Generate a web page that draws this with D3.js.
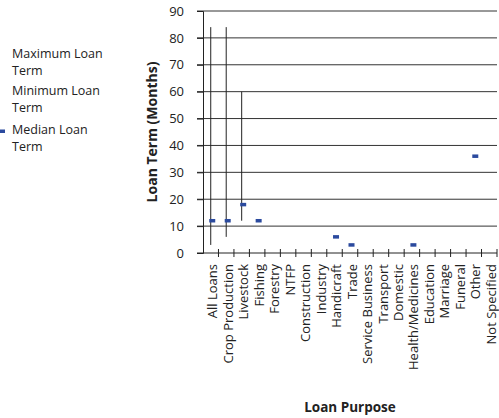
<!DOCTYPE html>
<html><head><meta charset="utf-8">
<script src="https://cdn.jsdelivr.net/npm/d3@7"></script>
<style>
html,body{margin:0;padding:0;background:#fff;}
text{font-family:"Open Sans","Noto Sans",sans-serif;fill:#222;}
</style></head>
<body>
<svg id="chart" width="499" height="418"></svg>
<script>
const categories = ["All Loans","Crop Production","Livestock","Fishing","Forestry","NTFP","Construction","Industry","Handicraft","Trade","Service Business","Transport","Domestic","Health/Medicines","Education","Marriage","Funeral","Other","Not Specified"];
const maxTerm = [84,84,60,null,null,null,null,null,null,null,null,null,null,null,null,null,null,null,null];
const minTerm = [3,6,12,null,null,null,null,null,null,null,null,null,null,null,null,null,null,null,null];
const medianTerm = [12,12,18,12,null,null,null,null,6,3,null,null,null,3,null,null,null,36,null];
const yTicks = [0,10,20,30,40,50,60,70,80,90];
const legendItems = [["Maximum Loan","Term"],["Minimum Loan","Term"],["Median Loan","Term"]];

const svg = d3.select("#chart");
const x = d3.scaleBand().domain(categories).range([203,497]).padding(0);
const y = d3.scaleLinear().domain([0,90]).range([253,11]);

// gridlines
svg.append("g").selectAll("line").data(yTicks.filter(d=>d>0)).join("line")
  .attr("x1",197).attr("x2",497)
  .attr("y1",d=>y(d)).attr("y2",d=>y(d))
  .attr("stroke","#333").attr("stroke-width",1);

// y axis
const yAxis = svg.append("g").attr("transform","translate(203,0)")
  .call(d3.axisLeft(y).tickValues(yTicks).tickSize(6).tickPadding(13));
yAxis.select(".domain").attr("stroke","#222");
yAxis.selectAll(".tick line").attr("stroke","#222");
yAxis.selectAll("text").style("font-size","13px").attr("fill","#222").style("font-family","Open Sans, sans-serif");

// x axis
const xAxis = svg.append("g").attr("transform","translate(0,253)");
xAxis.append("line").attr("x1",197).attr("x2",497).attr("stroke","#222");
const bounds = categories.map(c=>x(c)+x.bandwidth());
xAxis.selectAll("line.tk").data(bounds).join("line").attr("class","tk")
  .attr("x1",d=>d).attr("x2",d=>d).attr("y1",-4).attr("y2",4).attr("stroke","#222");
xAxis.selectAll("text").data(categories).join("text")
  .attr("transform",d=>`translate(${x(d)+x.bandwidth()/2+2},11) rotate(-90)`)
  .attr("text-anchor","end").attr("dy","0.35em")
  .style("font-size","13px").text(d=>d);

// whiskers
const rng = categories.map((c,i)=>({c,lo:minTerm[i],hi:maxTerm[i]})).filter(d=>d.lo!=null&&d.hi!=null);
svg.append("g").selectAll("line").data(rng).join("line")
  .attr("x1",d=>x(d.c)+x.bandwidth()/2).attr("x2",d=>x(d.c)+x.bandwidth()/2)
  .attr("y1",d=>y(d.hi)).attr("y2",d=>y(d.lo))
  .attr("stroke","#222").attr("stroke-width",1);

// medians
const med = categories.map((c,i)=>({c,v:medianTerm[i]})).filter(d=>d.v!=null);
svg.append("g").selectAll("rect").data(med).join("rect")
  .attr("x",d=>x(d.c)+x.bandwidth()/2-1.5).attr("y",d=>y(d.v)-1.75)
  .attr("width",6).attr("height",3.5).attr("fill","#2B4A9E");

// axis titles
svg.append("text").attr("transform","translate(157,132) rotate(-90)")
  .attr("text-anchor","middle").style("font-size","14px").style("font-weight","bold")
  .text("Loan Term (Months)");
svg.append("text").attr("x",350).attr("y",412).attr("text-anchor","middle")
  .style("font-size","13.5px").style("font-weight","bold").text("Loan Purpose");

// legend
const lg = svg.append("g");
const baseY = [58,95,134];
legendItems.forEach((lines,i)=>{
  lines.forEach((s,j)=>{
    lg.append("text").attr("x",12).attr("y",baseY[i]+j*17.3).style("font-size","12.5px").text(s);
  });
});
lg.append("rect").attr("x",0).attr("y",129.5).attr("width",5).attr("height",3.5).attr("fill","#2B4A9E");
</script>
</body></html>
